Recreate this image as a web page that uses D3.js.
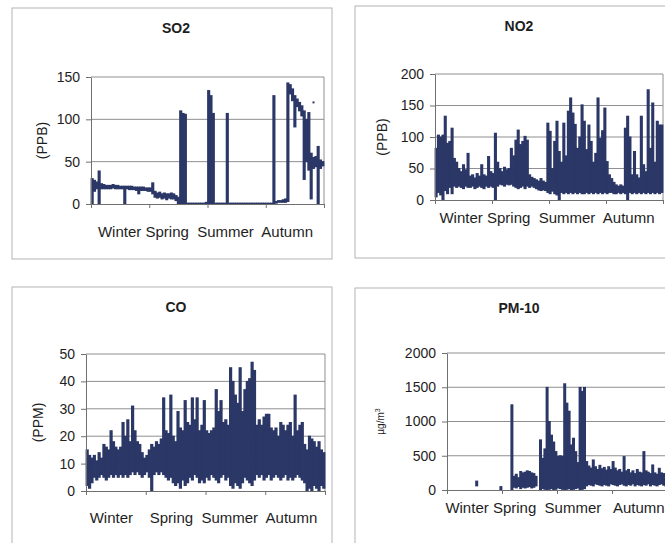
<!DOCTYPE html>
<html>
<head>
<meta charset="utf-8">
<script src="https://cdn.jsdelivr.net/npm/d3@7"></script>
<style>
  body { margin: 0; background: #fff; }
  svg text { font-family: "Liberation Sans", Arial, sans-serif; fill: #1e1e1e; }
  .season { white-space: pre; }
</style>
</head>
<body>
<div id="chart"></div>
<script>
var width = 665,
    height = 543;

var seasons = ["Winter", "Spring", "Summer", "Autumn"];

var so2Lo = [0,15,18,0,18,18,18,18,18,19, 18,18,18,18,0,18,17,17,17,16,
  12,16,16,16,15,15,12,8,7,8, 6,7,5,7,6,6,4,0,0,0,
  0,0,0,0,0,0,0,0,0,0, 0,0,0,0,0,0,0,0,0,0,
  0,0,0,0,0,0,0,0,0,0, 0,0,0,0,0,0,0,0,0,1,
  2,2,2,2,3,130,122,91,115,110, 104,29,50,40,6,42,44,0,42,45];
var so2Hi = [30,28,26,39,24,23,22,22,22,23, 22,22,21,21,21,21,21,21,20,20,
  20,20,20,19,19,19,25,15,13,14, 12,13,12,12,13,12,10,8,110,107,
  106,1,1,1,1,1,1,1,1,2, 134,128,107,1,1,1,1,1,107,1,
  1,1,1,1,1,1,1,1,1,1, 1,1,1,1,1,1,1,1,128,3,
  4,4,5,6,143,141,136,128,124,120, 116,110,100,108,60,55,56,68,52,50];
var so2Dots = [{bin: 95, value: 120}];

var no2Lo = [5,12,8,0,15,10,20,10,22,20, 22,20,18,22,20,20,22,18,20,22,
  20,18,22,20,22,20,0,22,25,24, 22,25,24,25,22,20,18,20,22,18,
  22,20,22,20,18,16,15,16,15,12, 10,14,10,8,0,12,10,12,10,12,
  10,12,10,12,10,10,12,10,12,10, 12,10,12,10,12,10,12,12,10,10,
  12,10,12,10,0,12,10,12,10,12, 10,12,10,12,10,12,10,12,10,12];
var no2Hi = [82,103,100,103,133,90,93,114,66,60, 50,45,56,48,74,38,40,35,42,38,
  56,40,38,69,45,42,106,60,50,45, 52,48,50,82,70,95,111,88,93,101,
  95,40,36,34,32,30,34,30,28,122, 109,50,93,125,77,60,122,70,141,162,
  138,120,82,100,151,125,80,119,93,60, 74,162,98,110,146,61,40,34,28,24,
  22,24,22,114,133,100,40,77,40,35, 133,56,45,175,82,154,60,125,119,119];

var coLo = [2,1,3,5,4,5,6,5,4,5, 6,5,6,5,6,5,6,5,6,7,
  6,7,6,5,6,7,5,0,6,7, 6,7,6,5,4,5,3,2,3,1,
  4,2,3,5,4,6,5,3,4,3, 5,4,6,5,4,3,5,6,4,5,
  2,1,3,2,1,3,5,4,3,2, 4,6,5,6,4,5,6,4,5,6,
  5,4,5,6,4,5,4,5,6,5, 4,3,0,1,0,2,1,0,2,1];
var coHi = [15,13,12,13,11,14,12,17,16,15, 22,18,16,15,16,25,20,26,18,31,
  22,18,17,14,12,13,15,17,16,18, 17,19,34,22,21,35,20,18,29,23,
  22,33,25,24,34,26,34,22,24,33, 22,21,22,23,37,29,33,25,26,24,
  45,40,35,32,45,29,37,40,41,47, 44,24,26,24,27,28,28,23,22,23,
  20,25,24,22,24,25,20,35,22,24, 25,17,15,20,19,18,16,18,15,14];

var pmLo = [null,null,null,null,null,null,null,null,null,null, null,null,null,60,null,null,null,null,null,null,
  null,null,null,null,0,null,null,null,null,0, 40,30,50,20,40,30,40,50,30,40,
  60,null,0,20,10,0,10,20,0,10, 30,20,10,0,10,20,0,10,20,30,
  0,10,20,60,80,70,60,90,80,70, 60,80,70,60,90,80,70,60,80,90,
  70,60,80,70,90,60,80,70,60,80, 70,90,60,80,70,60,80,90,70,60];
var pmHi = [null,null,null,null,null,null,null,null,null,null, null,null,null,130,null,null,null,null,null,null,
  null,null,null,null,50,null,null,null,null,1244, 200,230,180,270,250,260,280,270,250,240,
  200,null,732,463,600,1498,1000,800,700,561, 490,500,490,1551,1268,1150,658,756,560,400,
  1498,1439,1498,415,350,320,439,340,300,360, 310,330,290,340,300,415,320,280,300,260,
  488,280,300,250,280,240,300,260,250,561, 280,260,240,366,250,230,317,250,240,230];

var so2Ticks = [0, 50, 100, 150],
    no2Ticks = [0, 50, 100, 150, 200],
    coTicks = [0, 10, 20, 30, 40, 50],
    pmTicks = [0, 500, 1000, 1500, 2000];

var panels = [
  {title: "SO2", unit: "(PPB)", lo: so2Lo, hi: so2Hi, dots: so2Dots, ticks: so2Ticks,
   season: "Winter Spring  Summer  Autumn",
   box: {x: 12, y: 8, w: 320, h: 251}, plot: {l: 91, t: 77, r: 324, b: 204}, seasonY: 237, unitX: 42},
  {title: "NO2", unit: "(PPB)", lo: no2Lo, hi: no2Hi, dots: [], ticks: no2Ticks,
   season: "Winter Spring  Summer  Autumn",
   box: {x: 355, y: 6, w: 400, h: 252}, plot: {l: 435, t: 74, r: 663, b: 200}, seasonY: 223, unitX: 382},
  {title: "CO", unit: "(PPM)", lo: coLo, hi: coHi, dots: [], ticks: coTicks,
   season: "Winter    Spring  Summer  Autumn",
   box: {x: 12, y: 287, w: 320, h: 300}, plot: {l: 86, t: 354, r: 325, b: 491}, seasonY: 523, unitX: 38},
  {title: "PM-10", unit: "pm", lo: pmLo, hi: pmHi, dots: [], ticks: pmTicks,
   season: "Winter Spring  Summer   Autumn",
   box: {x: 355, y: 288, w: 400, h: 300}, plot: {l: 447, t: 353, r: 667, b: 490}, seasonY: 513, unitX: 380}
];

var ink = "#2b3766",
    grid = "#8f8f8f";

var svg = d3.select("#chart").append("svg")
    .attr("width", width)
    .attr("height", height);

panels.forEach(function(p) {
  var g = svg.append("g");
  var n = p.hi.length;

  g.append("rect")
      .attr("x", p.box.x).attr("y", p.box.y)
      .attr("width", p.box.w).attr("height", p.box.h)
      .attr("fill", "#fff")
      .attr("stroke", "#b4b4b4");

  var x = d3.scaleLinear().domain([0, n]).range([p.plot.l, p.plot.r]);
  var xs = d3.scaleLinear().domain([0, seasons.length]).range([p.plot.l, p.plot.r]);
  var y = d3.scaleLinear().domain([0, d3.max(p.ticks)]).range([p.plot.b, p.plot.t]);
  var bw = x(1) - x(0);

  // gridlines
  g.selectAll(".grid").data(p.ticks.slice(1))
    .enter().append("line")
      .attr("x1", p.plot.l).attr("x2", p.plot.r)
      .attr("y1", function(d) { return y(d); })
      .attr("y2", function(d) { return y(d); })
      .attr("stroke", grid);

  g.append("line")
      .attr("x1", p.plot.r).attr("x2", p.plot.r)
      .attr("y1", p.plot.t).attr("y2", p.plot.b)
      .attr("stroke", grid);

  // the trace
  var bins = d3.range(n).filter(function(i) { return p.hi[i] != null; })
      .map(function(i) { return {i: i, lo: p.lo[i], hi: p.hi[i]}; });

  g.selectAll(".bin").data(bins)
    .enter().append("line")
      .attr("x1", function(d) { return x(d.i + 0.5); })
      .attr("x2", function(d) { return x(d.i + 0.5); })
      .attr("y1", function(d) { return y(d.lo) + 0.5; })
      .attr("y2", function(d) { return y(d.hi) - 0.5; })
      .attr("stroke", ink)
      .attr("stroke-width", bw + 0.8);

  g.selectAll(".dot").data(p.dots)
    .enter().append("rect")
      .attr("x", function(d) { return x(d.bin + 0.5) - 1; })
      .attr("y", function(d) { return y(d.value) - 1; })
      .attr("width", 2).attr("height", 2)
      .attr("fill", ink);

  // axes
  var yAxis = g.append("g")
      .attr("transform", "translate(" + p.plot.l + ",0)")
      .call(d3.axisLeft(y).tickValues(p.ticks).tickFormat(d3.format("d"))
        .tickSize(5).tickSizeOuter(0).tickPadding(6));
  yAxis.select(".domain").attr("stroke", "#707070");
  yAxis.selectAll(".tick line").attr("stroke", "#707070");
  yAxis.selectAll("text").attr("font-size", 14).attr("fill", "#1e1e1e");

  var xAxis = g.append("g")
      .attr("transform", "translate(0," + p.plot.b + ")")
      .call(d3.axisBottom(xs).tickValues(d3.range(seasons.length + 1)).tickSize(4).tickSizeOuter(0).tickFormat(""));
  xAxis.select(".domain").attr("stroke", "#707070");
  xAxis.selectAll(".tick line").attr("stroke", "#707070");

  g.append("text")
      .attr("x", p.box.x + 164)
      .attr("y", p.box.y + 25)
      .attr("text-anchor", "middle")
      .attr("font-size", 14)
      .attr("font-weight", "bold")
      .text(p.title);

  g.append("text")
      .attr("class", "season")
      .attr("x", (p.plot.l + p.plot.r) / 2 - 2)
      .attr("y", p.seasonY)
      .attr("text-anchor", "middle")
      .attr("font-size", 15)
      .text(p.season);

  var cy = (p.plot.t + p.plot.b) / 2;
  var unit = g.append("text")
      .attr("transform", "translate(" + p.unitX + "," + cy + ") rotate(-90)")
      .attr("text-anchor", "middle")
      .attr("dy", "0.35em");
  if (p.unit === "pm") {
    unit.attr("font-size", 10);
    unit.append("tspan").text("\u00b5g/m");
    unit.append("tspan").attr("dy", "-0.45em").attr("font-size", 7).text("3");
  } else {
    unit.attr("font-size", 14).text(p.unit);
  }
});
</script>
</body>
</html>
